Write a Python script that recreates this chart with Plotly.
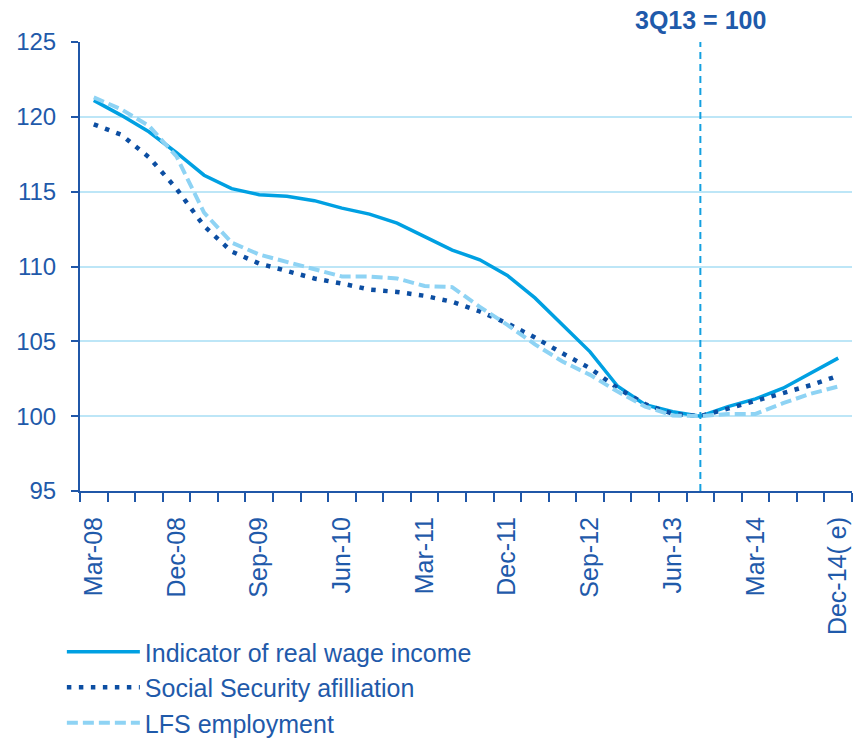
import plotly.graph_objects as go

# Quarterly categories, Mar-08 to Dec-14 (estimate)
quarters = [
    "Mar-08", "Jun-08", "Sep-08", "Dec-08",
    "Mar-09", "Jun-09", "Sep-09", "Dec-09",
    "Mar-10", "Jun-10", "Sep-10", "Dec-10",
    "Mar-11", "Jun-11", "Sep-11", "Dec-11",
    "Mar-12", "Jun-12", "Sep-12", "Dec-12",
    "Mar-13", "Jun-13", "Sep-13", "Dec-13",
    "Mar-14", "Jun-14", "Sep-14", "Dec-14( e)",
]

# Index, 3Q13 = 100
real_wage_income = [
    121.1, 120.1, 119.0, 117.6, 116.1, 115.2, 114.8, 114.7,
    114.4, 113.9, 113.5, 112.9, 112.0, 111.1, 110.45, 109.4,
    107.9, 106.1, 104.3, 102.0, 100.76, 100.3, 100.0, 100.64,
    101.15, 101.87, 102.87, 103.88,
]
social_security = [
    119.5, 118.8, 117.3, 115.2, 112.7, 111.0, 110.2, 109.67,
    109.2, 108.86, 108.46, 108.3, 108.04, 107.64, 107.0, 106.2,
    105.25, 104.2, 103.2, 101.87, 100.8, 100.15, 100.0, 100.5,
    101.0, 101.5, 102.07, 102.7,
]
lfs_employment = [
    121.3, 120.5, 119.4, 117.35, 113.6, 111.6, 110.8, 110.3,
    109.8, 109.33, 109.33, 109.2, 108.7, 108.62, 107.3, 106.1,
    104.8, 103.65, 102.76, 101.64, 100.64, 100.05, 100.0, 100.15,
    100.15, 100.87, 101.5, 101.98,
]

base_quarter = "Sep-13"
base_label = "3Q13 = 100"

# Only every third quarter carries a label
tick_labels = [q if i % 3 == 0 else "" for i, q in enumerate(quarters)]

FONT = "Liberation Sans, Arial, sans-serif"
TEXT_BLUE = "#1F5AAA"
AXIS_BLUE = "#2057A8"

fig = go.Figure()
fig.add_trace(go.Scatter(
    x=quarters, y=real_wage_income, mode="lines",
    name="Indicator of real wage income",
    line=dict(color="#00A0E2", width=3.5),
))
fig.add_trace(go.Scatter(
    x=quarters, y=social_security, mode="lines",
    name="Social Security afilliation",
    line=dict(color="#0C4EA2", width=4.5, dash="4.5px,7.5px"),
))
fig.add_trace(go.Scatter(
    x=quarters, y=lfs_employment, mode="lines",
    name="LFS employment",
    line=dict(color="#8ED3F4", width=4, dash="11px,5px"),
))

# Base-period marker
fig.add_shape(
    type="line", xref="x", yref="paper",
    x0=base_quarter, x1=base_quarter, y0=0, y1=1,
    line=dict(color="#14A0E0", width=2, dash="7px,5px"),
    layer="above",
)
fig.add_annotation(
    x=base_quarter, xref="x", y=1, yref="paper",
    yanchor="bottom", xanchor="center", yshift=6,
    text="<b>" + base_label + "</b>", showarrow=False,
    font=dict(family=FONT, size=25, color=TEXT_BLUE),
)

fig.update_xaxes(
    type="category", categoryorder="array", categoryarray=quarters,
    tickmode="array", tickvals=quarters, ticktext=tick_labels,
    tickson="boundaries", ticks="outside", ticklen=9, tickwidth=2,
    tickcolor=AXIS_BLUE, tickangle=-90, automargin=False,
    tickfont=dict(family=FONT, size=25, color=TEXT_BLUE),
    ticklabelstandoff=14,
    showline=True, linecolor=AXIS_BLUE, linewidth=2,
    showgrid=False, zeroline=False,
    range=[-0.5, len(quarters) - 0.5],
)
fig.update_yaxes(
    range=[95, 125], dtick=5, tick0=95, automargin=False,
    ticks="outside", ticklen=7, tickwidth=2, tickcolor=AXIS_BLUE,
    tickfont=dict(family=FONT, size=24, color=TEXT_BLUE),
    showline=True, linecolor=AXIS_BLUE, linewidth=2,
    showgrid=True, gridcolor="#BDE6F7", gridwidth=2,
    zeroline=False, ticklabelstandoff=10,
)

fig.update_layout(
    width=854, height=739,
    margin=dict(l=80, r=2, t=42, b=248, autoexpand=False),
    paper_bgcolor="white", plot_bgcolor="white",
    showlegend=True,
    legend=dict(
        x=-0.0235, xref="paper", y=0.1488, yref="container",
        xanchor="left", yanchor="top",
        orientation="v", itemwidth=73, tracegroupgap=0,
        font=dict(family=FONT, size=25, color=TEXT_BLUE),
        bgcolor="rgba(0,0,0,0)",
    ),
)

fig.write_html("out.html")
